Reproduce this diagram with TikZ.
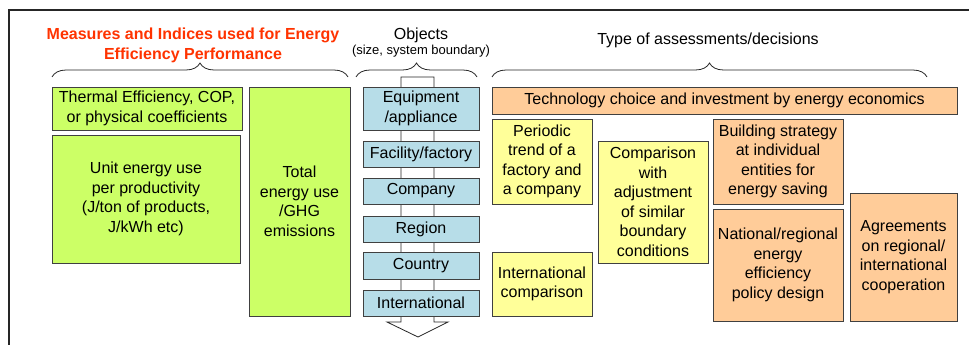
\documentclass[tikz,border=0pt]{standalone}
\usepackage{fontspec}
\setmainfont{Liberation Sans}
\usetikzlibrary{decorations.pathreplacing}

\definecolor{measure_green}{HTML}{CCFF66}
\definecolor{object_blue}{HTML}{B7DDE8}
\definecolor{decision_orange}{HTML}{FFCC99}
\definecolor{decision_yellow}{HTML}{FFFF99}
\definecolor{title_red}{HTML}{FF3300}

\begin{document}
\begin{tikzpicture}[ % one unit = 1pt, y runs downwards
x=1pt, y=-1pt,
base_box/.style={rectangle, draw=black!75, line width=0.8pt, inner sep=2pt, align=center, font=\fontsize{16}{19.5}\selectfont},
green_box/.style={base_box, fill=measure_green},
blue_box/.style={base_box, fill=object_blue, minimum width=116pt},
orange_box/.style={base_box, fill=decision_orange},
yellow_box/.style={base_box, fill=decision_yellow},
head_text/.style={align=center, font=\fontsize{16}{19.5}\selectfont},
small_text/.style={align=center, font=\fontsize{13}{15}\selectfont},
group_brace/.style={decorate, decoration={brace, amplitude=14pt}, line width=0.8pt, black!85}
]

\useasboundingbox (0,0) rectangle (969,345);

% frame
\draw[line width=1.6pt, black!85] (969,10) -- (9,10) -- (9,345);

% headings
\node[head_text, text=title_red, font=\bfseries\fontsize{16}{19.5}\selectfont](measures_title) at (193,45.5) {Measures and Indices used for Energy\\Efficiency Performance};
\node[head_text](objects_title) at (421,35) {Objects};
\node[small_text](objects_sub) at (421,51) {(size, system boundary)};
\node[head_text](types_title) at (708,40) {Type of assessments/decisions};

% braces under the headings
\coordinate (measures_l) at (52,77);
\coordinate (measures_r) at (348,77);
\coordinate (objects_l) at (356,77);
\coordinate (objects_r) at (477,77);
\coordinate (types_l) at (492,77);
\coordinate (types_r) at (927,77);
\draw[group_brace](measures_l) -- (measures_r);
\draw[group_brace](objects_l) -- (objects_r);
\draw[group_brace](types_l) -- (types_r);

% measures and indices
\node[green_box, minimum width=190pt, minimum height=43pt](thermal) at (147,108.5) {Thermal Efficiency, COP,\\or physical coefficients};
\node[green_box, minimum width=188pt, minimum height=128pt](unit_use) at (146,199) {Unit energy use\\per productivity\\(J/ton of products,\\J/kWh etc)};
\node[green_box, minimum width=101pt, minimum height=229pt](total_use) at (299.5,201.5) {Total\\energy use\\/GHG\\emissions};

% scale arrow behind the objects
\draw[black!85, line width=0.8pt, fill=white] (401,77) -- (434,77) -- (434,322) -- (448,322) -- (418,337) -- (387,322) -- (401,322) -- cycle;

% objects
\node[blue_box, minimum height=43pt](equipment) at (421,108.5) {Equipment\\/appliance};
\node[blue_box, minimum height=26pt](facility) at (421,154) {Facility/factory};
\node[blue_box, minimum height=26pt](company) at (421,191) {Company};
\node[blue_box, minimum height=26pt](region) at (421,229) {Region};
\node[blue_box, minimum height=27pt](country) at (421,265.5) {Country};
\node[blue_box, minimum height=26pt](international) at (421,303) {International};

% assessments and decisions
\node[orange_box, minimum width=465pt, minimum height=27pt](technology) at (724.5,100.5) {Technology choice and investment by energy economics};
\node[yellow_box, minimum width=100pt, minimum height=85pt](periodic) at (542,161.5) {Periodic\\trend of a\\factory and\\a company};
\node[yellow_box, minimum width=100pt, minimum height=64pt](intl_comparison) at (542,284) {International\\comparison};
\node[yellow_box, minimum width=110pt, minimum height=122pt](comparison) at (653,202) {Comparison\\with\\adjustment\\of similar\\boundary\\conditions};
\node[orange_box, minimum width=130pt, minimum height=85pt](building) at (778,161.5) {Building strategy\\at individual\\entities for\\energy saving};
\node[orange_box, minimum width=130pt, minimum height=112pt](national) at (778,265) {National/regional\\energy\\efficiency\\policy design};
\node[orange_box, minimum width=107pt, minimum height=128pt](agreements) at (903.5,257) {Agreements\\on regional/\\international\\cooperation};

\end{tikzpicture}
\end{document}
